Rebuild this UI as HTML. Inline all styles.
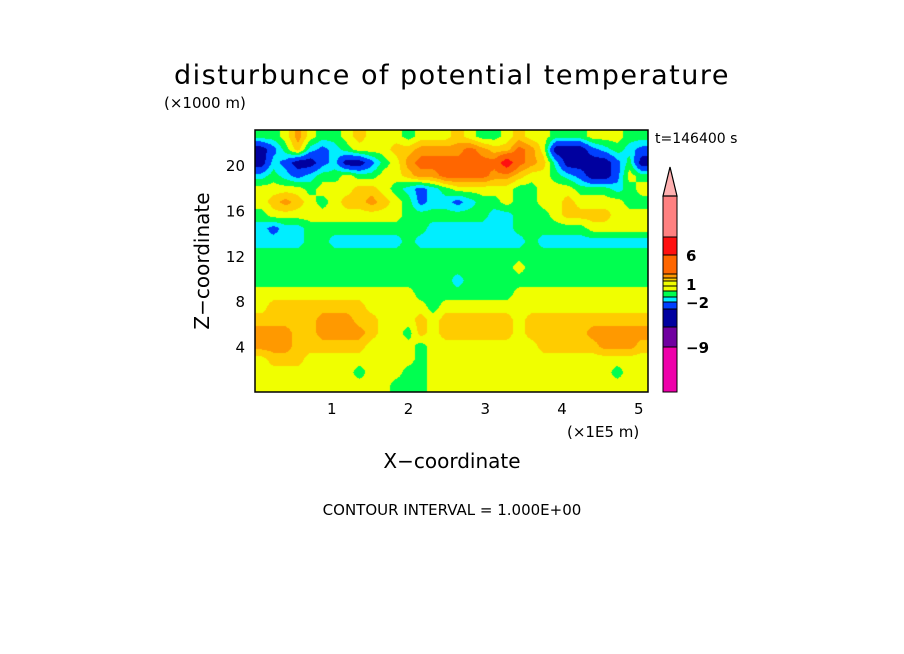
<!DOCTYPE html>
<html><head><meta charset="utf-8">
<style>
html,body{margin:0;padding:0;background:#fff;}
body{width:904px;height:654px;overflow:hidden;position:relative;}
svg text{font-family:"DejaVu Sans","Liberation Sans",sans-serif;fill:#000;}
#field{position:absolute;left:255px;top:130px;width:393px;height:262px;}
svg{position:absolute;left:0;top:0;}
</style></head>
<body>
<canvas id="field" width="393" height="262"></canvas>
<svg id="chart" width="904" height="654" viewBox="0 0 904 654" xmlns="http://www.w3.org/2000/svg">
<text x="452" y="84" text-anchor="middle" font-size="27" letter-spacing="1.5">disturbunce of potential temperature</text>
<text x="164" y="108" font-size="15">(×1000 m)</text>
<text x="655" y="143" font-size="14">t=146400 s</text>
<rect x="255" y="130" width="393" height="262" fill="none" stroke="#000" stroke-width="1.5"/>
<g id="xticks"></g>
<g id="yticks"></g>
<text x="567" y="437" font-size="15">(×1E5 m)</text>
<text x="452" y="468" text-anchor="middle" font-size="20">X−coordinate</text>
<text transform="translate(209,261) rotate(-90)" text-anchor="middle" font-size="20">Z−coordinate</text>
<text x="452" y="515" text-anchor="middle" font-size="15">CONTOUR INTERVAL = 1.000E+00</text>
<g id="cbar"></g>
</svg>
<script>
const xTicks=[1,2,3,4,5];
const yTicks=[4,8,12,16,20];
const xDomain=[0,5.12];
const yDomain=[0,23.08];
const row0=[-1,-1,0,2,0,-1,-1,0,1,0,0,0,-1,0,0,0,1,0,-1,-1,0,1,0,0,-1,-1,-1,0,0,0,-1,-1];
const row1=[-5,-3,-1,1,-2,-3,-2,-1,0,0,0,1,1,2,2,2,2,3,2,1,1,3,2,0,-5,-5,-5,-3,-2,-1,-2,-3];
const row2=[-5,-2,-3,-5,-5,-3,-2,-5,-5,-3,-1,0,2,3,3,3,3,3,3,3,6,3,2,1,-2,-5,-5,-5,-5,-3,-1,-5];
const row3=[-2,-1,-2,-3,-2,-1,-1,0,-1,-1,0,0,1,2,2,3,3,3,3,2,2,1,0,0,-1,-2,-3,-5,-5,-3,0,-1];
const row4=[0,0,0,0,-1,0,0,0,1,1,0,-1,-2,-3,-2,-1,0,0,0,0,0,-1,-1,0,0,0,-1,-1,-1,-2,-1,0];
const row5=[0,1,2,1,0,-1,0,1,1,2,1,0,-1,-3,-2,-2,-3,-2,-1,-1,0,-1,-1,0,0,1,0,0,0,0,-1,-1];
const row6=[-1,0,0,0,0,0,0,0,0,0,0,0,-1,-1,-1,-1,-1,-1,-1,-2,-2,-1,-1,-1,0,1,1,1,1,0,0,0];
const row7=[-2,-3,-2,-2,-1,-1,-1,-1,-1,-1,-1,-1,-1,-1,-2,-2,-2,-2,-2,-2,-2,-1,-1,-1,-1,-1,-1,0,0,0,0,0];
const row8=[-2,-2,-2,-2,-1,-1,-2,-2,-2,-2,-2,-2,-1,-2,-2,-2,-2,-2,-2,-2,-2,-2,-1,-2,-2,-2,-2,-2,-2,-2,-2,-2];
const row9=[-1,-1,-1,-1,-1,-1,-1,-1,-1,-1,-1,-1,-1,-1,-1,-1,-1,-1,-1,-1,-1,-1,-1,-1,-1,-1,-1,-1,-1,-1,-1,-1];
const row10=[-1,-1,-1,-1,-1,-1,-1,-1,-1,-1,-1,-1,-1,-1,-1,-1,-1,-1,-1,-1,-1,0,-1,-1,-1,-1,-1,-1,-1,-1,-1,-1];
const row11=[-1,-1,-1,-1,-1,-1,-1,-1,-1,-1,-1,-1,-1,-1,-1,-1,-2,-1,-1,-1,-1,-1,-1,-1,-1,-1,-1,-1,-1,-1,-1,-1];
const row12=[0,0,0,0,0,0,0,0,0,0,0,0,0,-1,-1,-1,-1,-1,-1,-1,-1,0,0,0,0,0,0,0,0,0,0,0];
const row13=[0,1,1,1,1,1,1,1,1,0,0,0,0,0,-1,0,0,0,0,0,0,0,0,0,0,0,0,0,0,0,0,0];
const row14=[1,1,1,1,1,2,2,2,1,1,0,0,0,1,0,1,1,1,1,1,1,0,1,1,1,1,1,1,1,1,1,1];
const row15=[2,2,2,1,1,2,2,2,2,1,0,0,-1,1,0,1,1,1,1,1,1,0,1,1,1,1,1,2,2,2,2,2];
const row16=[2,2,2,1,1,1,1,1,1,0,0,0,0,-1,0,0,0,0,0,0,0,0,0,1,1,1,1,1,2,2,2,1];
const row17=[0,1,1,1,0,0,0,0,0,0,0,0,0,-1,0,0,0,0,0,0,0,0,0,0,0,0,0,0,0,0,0,0];
const row18=[0,0,0,0,0,0,0,0,-1,0,0,0,-1,-1,0,0,0,0,0,0,0,0,0,0,0,0,0,0,0,-1,0,0];
const row19=[0,0,0,0,0,0,0,0,0,0,0,-1,-1,-1,0,0,0,0,0,0,0,0,0,0,0,0,0,0,0,0,0,0];
const grid=[row0,row1,row2,row3,row4,row5,row6,row7,row8,row9,row10,row11,row12,row13,row14,row15,row16,row17,row18,row19];
const cbarLabels=["6","1","−2","−9"];
const cbarLabelVals=[6,1,-2,-9];

const NS="http://www.w3.org/2000/svg";
const PL=255,PR=648,PT=130,PB=392;
function xs(v){return PL+(v-xDomain[0])/(xDomain[1]-xDomain[0])*(PR-PL);}
function ys(v){return PB-(v-yDomain[0])/(yDomain[1]-yDomain[0])*(PB-PT);}
function colorRGB(v){
  if(v>=4.5)return[255,16,16];
  if(v>=2.5)return[255,102,0];
  if(v>=1.5)return[255,153,0];
  if(v>=0.5)return[255,204,0];
  if(v>=-0.5)return[240,255,0];
  if(v>=-1.5)return[0,255,80];
  if(v>=-2.5)return[0,238,255];
  if(v>=-4)return[0,64,255];
  if(v>=-7)return[0,0,159];
  return[112,0,160];
}
(function(){
  const cv=document.getElementById('field');const ctx=cv.getContext('2d');
  const W=cv.width,H=cv.height,nr=grid.length,nc=grid[0].length;
  const img=ctx.createImageData(W,H);
  for(let py=0;py<H;py++){
    let fy=(py+0.5)/H*nr-0.5; fy=Math.max(0,Math.min(nr-1,fy));
    const j0=Math.floor(fy),j1=Math.min(nr-1,j0+1),ty=fy-j0;
    for(let px=0;px<W;px++){
      let fx=(px+0.5)/W*nc-0.5; fx=Math.max(0,Math.min(nc-1,fx));
      const i0=Math.floor(fx),i1=Math.min(nc-1,i0+1),tx=fx-i0;
      const v=(grid[j0][i0]*(1-tx)+grid[j0][i1]*tx)*(1-ty)+(grid[j1][i0]*(1-tx)+grid[j1][i1]*tx)*ty;
      const c=colorRGB(v);const k=(py*W+px)*4;
      img.data[k]=c[0];img.data[k+1]=c[1];img.data[k+2]=c[2];img.data[k+3]=255;
    }
  }
  ctx.putImageData(img,0,0);
})();
function mk(tag,attrs,parent){const e=document.createElementNS(NS,tag);for(const k in attrs)e.setAttribute(k,attrs[k]);parent.appendChild(e);return e;}
const xt=document.getElementById('xticks');
xTicks.forEach(v=>{const t=mk('text',{x:xs(v),y:414,'text-anchor':'middle','font-size':'15'},xt);t.textContent=v;

});
const yt=document.getElementById('yticks');
yTicks.forEach(v=>{const t=mk('text',{x:245,y:ys(v)+6,'text-anchor':'end','font-size':'15'},yt);t.textContent=v;

});
const cb=document.getElementById('cbar');
const segs=[[196,237,"#ff8080"],[237,255,"#ff1010"],[255,274,"#ff6600"],[274,278,"#ff9900"],[278,281,"#ffcc00"],[281,286,"#f0ff00"],[286,291,"#f0ff00"],[291,297,"#00ff50"],[297,302,"#00eeff"],[302,309,"#0040ff"],[309,327,"#00009f"],[327,347,"#7000a0"],[347,392,"#ee00aa"]];
segs.forEach(s=>{const r=mk('rect',{x:663,y:s[0],width:14,height:s[1]-s[0],fill:s[2],stroke:'#000','stroke-width':'1'},cb);

});
const tri=mk('polygon',{points:'663,196 677,196 670,167',fill:'#ffb0b0',stroke:'#000','stroke-width':'1.2'},cb);


const labY={"6":261,"1":290,"−2":308,"−9":353};
cbarLabels.forEach((l,k)=>{const t=mk('text',{x:686,y:labY[l],'font-size':'15','font-weight':'bold'},cb);t.textContent=l;

});
</script>
</body></html>
